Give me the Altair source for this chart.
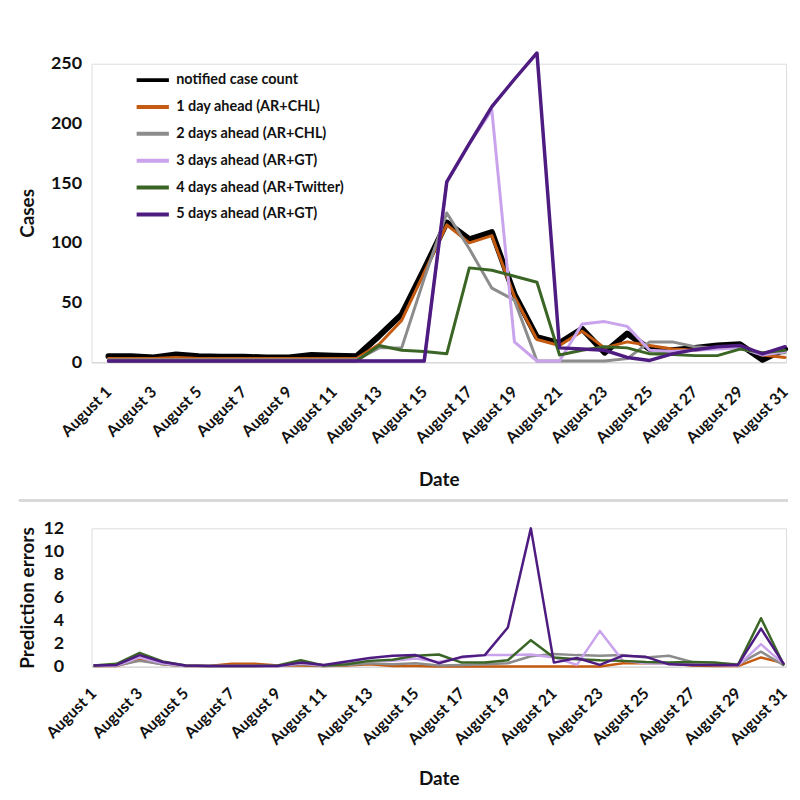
import altair as alt
import pandas as pd

days = list(range(1, 32))
tick_days = list(range(1, 32, 2))

series_names = [
    "notified case count",
    "1 day ahead (AR+CHL)",
    "2 days ahead (AR+CHL)",
    "3 days ahead (AR+GT)",
    "4 days ahead (AR+Twitter)",
    "5 days ahead (AR+GT)",
]
series_colors = ["#000000", "#C55A11", "#8C8C8C", "#C9A3EC", "#3A6525", "#4E1C80"]
series_widths = [6, 3, 3, 3, 3, 3.5]

# Top panel: cases (31 days of August)
notified = [5, 5, 4, 6.5, 5, 4.5, 4.5, 4, 4, 6, 5.5, 5, 22, 40, 78, 117, 103, 109, 57, 21,
            16, 28, 8, 24, 11, 10, 12, 14, 15, 2, 11]
ahead1 = [3, 3, 3, 4, 3, 3, 3, 3, 3, 3, 3, 3, 15, 35, 75, 115, 100, 106, 55, 19,
          14, 26, 12, 17, 14, 11, 10, 12, 14, 6, 4]
ahead2 = [2, 2, 2, 2, 2, 2, 2, 2, 2, 2, 2, 2, 12, 12, 70, 125, 95, 62, 52, 1,
          1, 1, 1, 3, 17, 17, 13, 12, 12, 7, 8]
ahead3 = [1, 1, 1, 1, 1, 1, 1, 1, 1, 1, 1, 1, 1, 1, 1, 151, 183, 211, 17, 1,
          1, 32, 34, 30, 10, 9, 10, 11, 12, 6, 9]
ahead4 = [1, 1, 1, 1, 1, 1, 1, 1, 1, 1, 1, 1, 14, 10, 9, 7, 79, 77, 72, 67,
          6, 10, 13, 12, 7, 6.5, 5.5, 5.5, 11, 8, 10]
ahead5 = [1, 1, 1, 1, 1, 1, 1, 1, 1, 1, 1, 1, 1, 1, 1, 151, 183, 214, 237, 259,
          12, 11, 10, 4, 1.5, 7, 10.5, 13, 14, 7, 13]

# Bottom panel: prediction errors
err1 = [0.05, 0.05, 0.6, 0.2, 0.05, 0.05, 0.25, 0.25, 0.1, 0.1, 0.05, 0.1, 0.2, 0.05, 0.05, 0.02,
        0.02, 0.02, 0.02, 0.02, 0.02, 0.02, 0.02, 0.3, 0.3, 0.3, 0.1, 0.05, 0.05, 0.8, 0.3]
err2 = [0.05, 0.1, 0.5, 0.2, 0.05, 0.05, 0.05, 0.05, 0.05, 0.2, 0.05, 0.15, 0.3, 0.2, 0.3, 0.1,
        0.15, 0.2, 0.3, 0.9, 1.1, 1.0, 0.95, 1.0, 0.8, 0.95, 0.4, 0.3, 0.2, 1.3, 0.1]
err3 = [0.1, 0.1, 0.8, 0.3, 0.05, 0.05, 0.05, 0.05, 0.05, 0.3, 0.1, 0.3, 0.5, 0.5, 0.7, 0.4,
        0.8, 1.0, 1.0, 1.05, 0.8, 0.15, 3.1, 0.5, 0.3, 0.25, 0.2, 0.15, 0.1, 1.95, 0.2]
err4 = [0.1, 0.25, 1.2, 0.45, 0.1, 0.05, 0.05, 0.05, 0.1, 0.55, 0.1, 0.2, 0.5, 0.6, 0.95, 1.05,
        0.35, 0.35, 0.55, 2.3, 0.8, 0.65, 0.55, 0.5, 0.4, 0.35, 0.4, 0.35, 0.15, 4.2, 0.1]
err5 = [0.1, 0.15, 1.0, 0.4, 0.1, 0.05, 0.05, 0.05, 0.05, 0.35, 0.15, 0.45, 0.75, 0.95, 1.0, 0.3,
        0.85, 1.0, 3.4, 12.0, 0.35, 0.75, 0.15, 0.95, 0.85, 0.2, 0.15, 0.15, 0.15, 3.3, 0.2]

top_values = [notified, ahead1, ahead2, ahead3, ahead4, ahead5]
bottom_values = [err1, err2, err3, err4, err5]

FONT = "Lato"
TXT = "#111111"
W = 698

top_rows = []
for name, vals in zip(series_names, top_values):
    for d, v in zip(days, vals):
        top_rows.append({"day": d, "value": v, "series": name})
top_df = pd.DataFrame(top_rows)

bot_rows = []
for name, vals in zip(series_names[1:], bottom_values):
    for d, v in zip(days, vals):
        bot_rows.append({"day": d, "value": v, "series": name})
bot_df = pd.DataFrame(bot_rows)

legend_cfg = alt.Legend(
    title=None, orient="none", legendX=43, legendY=-2,
    symbolType="stroke", symbolSize=1050, symbolStrokeWidth=4,
    labelFont=FONT, labelFontSize=14.5, labelFontWeight="bold", labelColor=TXT,
    labelOffset=5, rowPadding=-5.4, padding=0, labelLimit=300,
)


def x_axis(title_y, pad):
    return alt.Axis(
        values=tick_days, labelExpr="'August ' + datum.value",
        labelAngle=-45, labelAlign="right", labelBaseline="middle",
        labelFont=FONT, labelFontSize=16, labelFontWeight="bold", labelColor=TXT,
        labelPadding=pad, labelFlush=False, labelOverlap=False, labelBound=False,
        ticks=False, grid=False, domainColor="#D9D9D9", domainWidth=1.5,
        title="Date", titleFont=FONT, titleFontSize=19, titleFontWeight="bold",
        titleColor=TXT, titleY=title_y, titleBaseline="top",
    )


color_scale = alt.Scale(domain=series_names, range=series_colors)

top_layers = []
for i, name in enumerate(series_names):
    top_layers.append(
        alt.Chart(top_df)
        .transform_filter(alt.datum.series == name)
        .mark_line(strokeWidth=series_widths[i], strokeJoin="round", strokeCap="round")
        .encode(
            x=alt.X("day:Q", scale=alt.Scale(domain=[0.25, 31.044], nice=False, zero=False),
                    axis=x_axis(109, 27)),
            y=alt.Y("value:Q", scale=alt.Scale(domain=[0, 250], nice=False),
                    axis=alt.Axis(values=[0, 50, 100, 150, 200, 250], domain=False, ticks=False,
                                  grid=False, labelFont=FONT, labelFontSize=18,
                                  labelFontWeight="bold", labelColor=TXT, labelPadding=10,
                                  minExtent=45, maxExtent=45, title="Cases", titleFont=FONT,
                                  titleFontSize=19, titleFontWeight="bold", titleColor=TXT,
                                  titlePadding=9)),
            color=alt.Color("series:N", scale=color_scale, legend=legend_cfg),
        )
    )
top = alt.layer(*top_layers).properties(width=W, height=300)

bot_layers = [
    alt.Chart(bot_df).mark_rule(color="#D9D9D9", strokeWidth=2).encode(
        x=alt.value(-73), x2=alt.value(W + 2), y=alt.value(-28)
    )
]
for i, name in enumerate(series_names[1:]):
    bot_layers.append(
        alt.Chart(bot_df)
        .transform_filter(alt.datum.series == name)
        .mark_line(strokeWidth=2.5, strokeJoin="round")
        .encode(
            x=alt.X("day:Q", scale=alt.Scale(domain=[0.9135, 31.087], nice=False, zero=False),
                    axis=x_axis(103, 24)),
            y=alt.Y("value:Q", scale=alt.Scale(domain=[0, 12], nice=False),
                    axis=alt.Axis(values=[0, 2, 4, 6, 8, 10, 12], domain=False, ticks=False,
                                  grid=False, labelFont=FONT, labelFontSize=18,
                                  labelFontWeight="bold", labelColor=TXT, labelPadding=28,
                                  minExtent=49, maxExtent=49, title="Prediction errors",
                                  titleFont=FONT, titleFontSize=19, titleFontWeight="bold",
                                  titleColor=TXT, titlePadding=5)),
            color=alt.Color("series:N", scale=color_scale, legend=None),
        )
    )
bottom = alt.layer(*bot_layers).properties(width=W, height=139)

chart = (
    alt.vconcat(top, bottom, spacing=8)
    .resolve_scale(color="independent", x="independent", y="independent")
    .properties(padding={"left": 9, "top": 40, "right": 0, "bottom": 2})
    .configure_view(stroke=None)
    .configure(font=FONT)
)

chart.save("out.html", embed_options={"renderer": "svg", "actions": False})
